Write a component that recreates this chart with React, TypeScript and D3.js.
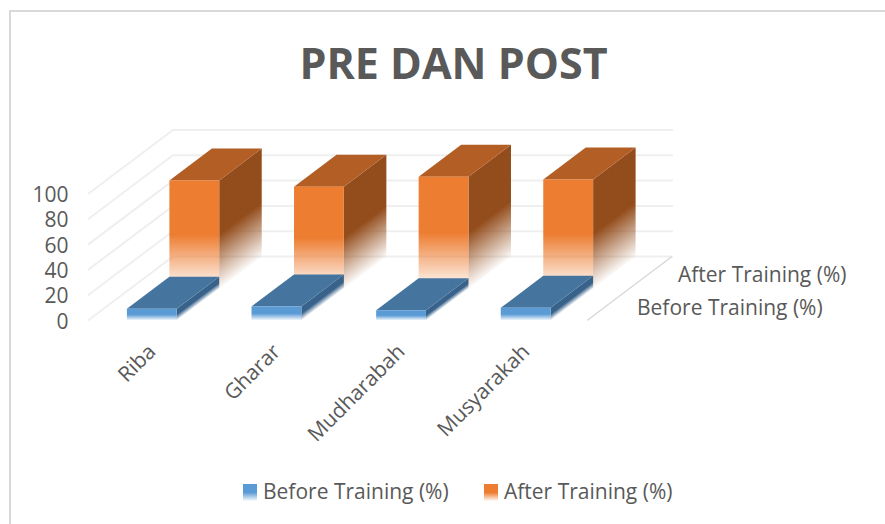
import React, { useEffect, useRef } from 'react'
import * as d3 from 'd3'

const categories = ['Riba', 'Gharar', 'Mudharabah', 'Musyarakah']
const seriesNames = ['Before Training (%)', 'After Training (%)']
const beforeValues = [9.3, 11.1, 8.1, 10]
const afterValues = [85.4, 80.4, 88.3, 86.2]
const yTicks = [0, 20, 40, 60, 80, 100]

const FONT = '"Open Sans", sans-serif'
const TEXT = '#595959'
const colors = [
  { front: '#5b9bd5', top: '#45759f', side: '#38628a' },
  { front: '#ed7d31', top: '#b25e25', side: '#934d1c' },
]

// oblique offset of the floor, front edge to back wall
const DEPTH = { dx: 85, dy: -64 }

const App = () => {
  const svgRef = useRef<SVGSVGElement>(null)

  useEffect(() => {
    const svg = d3.select(svgRef.current)
    svg.selectAll('*').remove()

    const x = d3.scaleBand<string>().domain(categories).range([88.5, 587]).paddingInner(0.6).paddingOuter(0.3)
    const y = d3.scaleLinear().domain([0, 100]).range([320.5, 194])
    const z = d3.scaleBand<string>().domain(seriesNames).range([0, 1])

    const defs = svg.append('defs')
    const addFade = (g: any, color: string) => {
      g.append('stop').attr('offset', '50%').attr('stop-color', color).attr('stop-opacity', 1)
      g.append('stop').attr('offset', '100%').attr('stop-color', color).attr('stop-opacity', 0.03)
    }
    colors.forEach((c, i) => {
      addFade(defs.append('linearGradient').attr('id', `front${i}`).attr('x2', 0).attr('y2', 1), c.front)
    })

    // chart frame
    svg.append('path')
      .attr('d', 'M10,524V11H885')
      .attr('fill', 'none')
      .attr('stroke', '#d9d9d9')
      .attr('stroke-width', 2)

    svg.append('text')
      .attr('x', 453.5)
      .attr('y', 79)
      .attr('text-anchor', 'middle')
      .attr('font-family', FONT)
      .attr('font-size', 43)
      .attr('font-weight', 700)
      .attr('fill', TEXT)
      .text('PRE DAN POST')

    // walls
    const grid = svg.append('g').attr('fill', 'none').attr('stroke', '#efefef').attr('stroke-width', 2)
    yTicks.forEach(t => {
      grid.append('path').attr('d', d3.line()([
        [88, y(t)],
        [88 + DEPTH.dx, y(t) + DEPTH.dy],
        [673, y(t) + DEPTH.dy],
      ]))
    })
    svg.append('line')
      .attr('x1', 587).attr('y1', y(0))
      .attr('x2', 587 + DEPTH.dx).attr('y2', y(0) + DEPTH.dy)
      .attr('stroke', '#d9d9d9')
      .attr('stroke-width', 1.5)

    // y axis
    svg.selectAll('.ytick')
      .data(yTicks)
      .enter()
      .append('text')
      .attr('x', 68.5)
      .attr('y', d => y(d) + 8)
      .attr('text-anchor', 'end')
      .attr('font-family', FONT)
      .attr('font-size', 21)
      .attr('fill', TEXT)
      .text(d => d)

    // back row first so the front row paints over it
    const drawBars = (values: number[], i: number) => {
      const name = seriesNames[i]
      const fracA = z(name) as number
      const fracB = fracA + z.bandwidth()
      const g = svg.append('g')
      categories.forEach((c, k) => {
        const x0 = (x(c) as number) + fracA * DEPTH.dx + 1
        const x1 = x0 + x.bandwidth()
        const base = y(0) + fracA * DEPTH.dy
        const top = base - (y(0) - y(values[k]))
        const ddx = (fracB - fracA) * DEPTH.dx
        const ddy = (fracB - fracA) * DEPTH.dy
        const poly = d3.line()
        // side fade runs along the depth direction, so skew the gradient to match
        const skew = (Math.atan2(ddy, ddx) * 180) / Math.PI
        const sideId = `side${i}-${k}`
        addFade(
          defs.append('linearGradient')
            .attr('id', sideId)
            .attr('gradientUnits', 'userSpaceOnUse')
            .attr('x1', x1).attr('y1', top)
            .attr('x2', x1).attr('y2', base)
            .attr('gradientTransform', `translate(${x1},${top}) skewY(${skew}) translate(${-x1},${-top})`),
          colors[i].side,
        )
        g.append('path')
          .attr('d', poly([[x1, top], [x1 + ddx, top + ddy], [x1 + ddx, base + ddy], [x1, base]]) + 'Z')
          .attr('fill', `url(#${sideId})`)
        g.append('path')
          .attr('d', poly([[x0, top], [x1, top], [x1 + ddx, top + ddy], [x0 + ddx, top + ddy]]) + 'Z')
          .attr('fill', colors[i].top)
        g.append('path')
          .attr('d', poly([[x0, top], [x1, top], [x1, base], [x0, base]]) + 'Z')
          .attr('fill', `url(#front${i})`)
      })
    }
    drawBars(afterValues, 1)
    drawBars(beforeValues, 0)

    // category labels
    svg.selectAll('.xlabel')
      .data(categories)
      .enter()
      .append('text')
      .attr('transform', d => `translate(${(x(d) as number) + 31},353) rotate(-45)`)
      .attr('text-anchor', 'end')
      .attr('font-family', FONT)
      .attr('font-size', 21)
      .attr('fill', TEXT)
      .text(d => d)

    // series axis labels
    const depthLabels = [{ x: 637, y: 315 }, { x: 678, y: 282 }]
    seriesNames.forEach((s, i) => {
      svg.append('text')
        .attr('x', depthLabels[i].x)
        .attr('y', depthLabels[i].y)
        .attr('font-family', FONT)
        .attr('font-size', 21)
        .attr('fill', TEXT)
        .text(s)
    })

    // legend
    const legendX = [243, 484]
    seriesNames.forEach((s, i) => {
      svg.append('rect')
        .attr('x', legendX[i]).attr('y', 484)
        .attr('width', 14).attr('height', 17)
        .attr('fill', `url(#front${i})`)
      svg.append('text')
        .attr('x', legendX[i] + 20)
        .attr('y', 499)
        .attr('font-family', FONT)
        .attr('font-size', 21)
        .attr('fill', TEXT)
        .text(s)
    })
  }, [])

  return <svg ref={svgRef} width={885} height={524} style={{ position: 'absolute', left: 0, top: 0, background: '#fff' }} />
}

export default App
